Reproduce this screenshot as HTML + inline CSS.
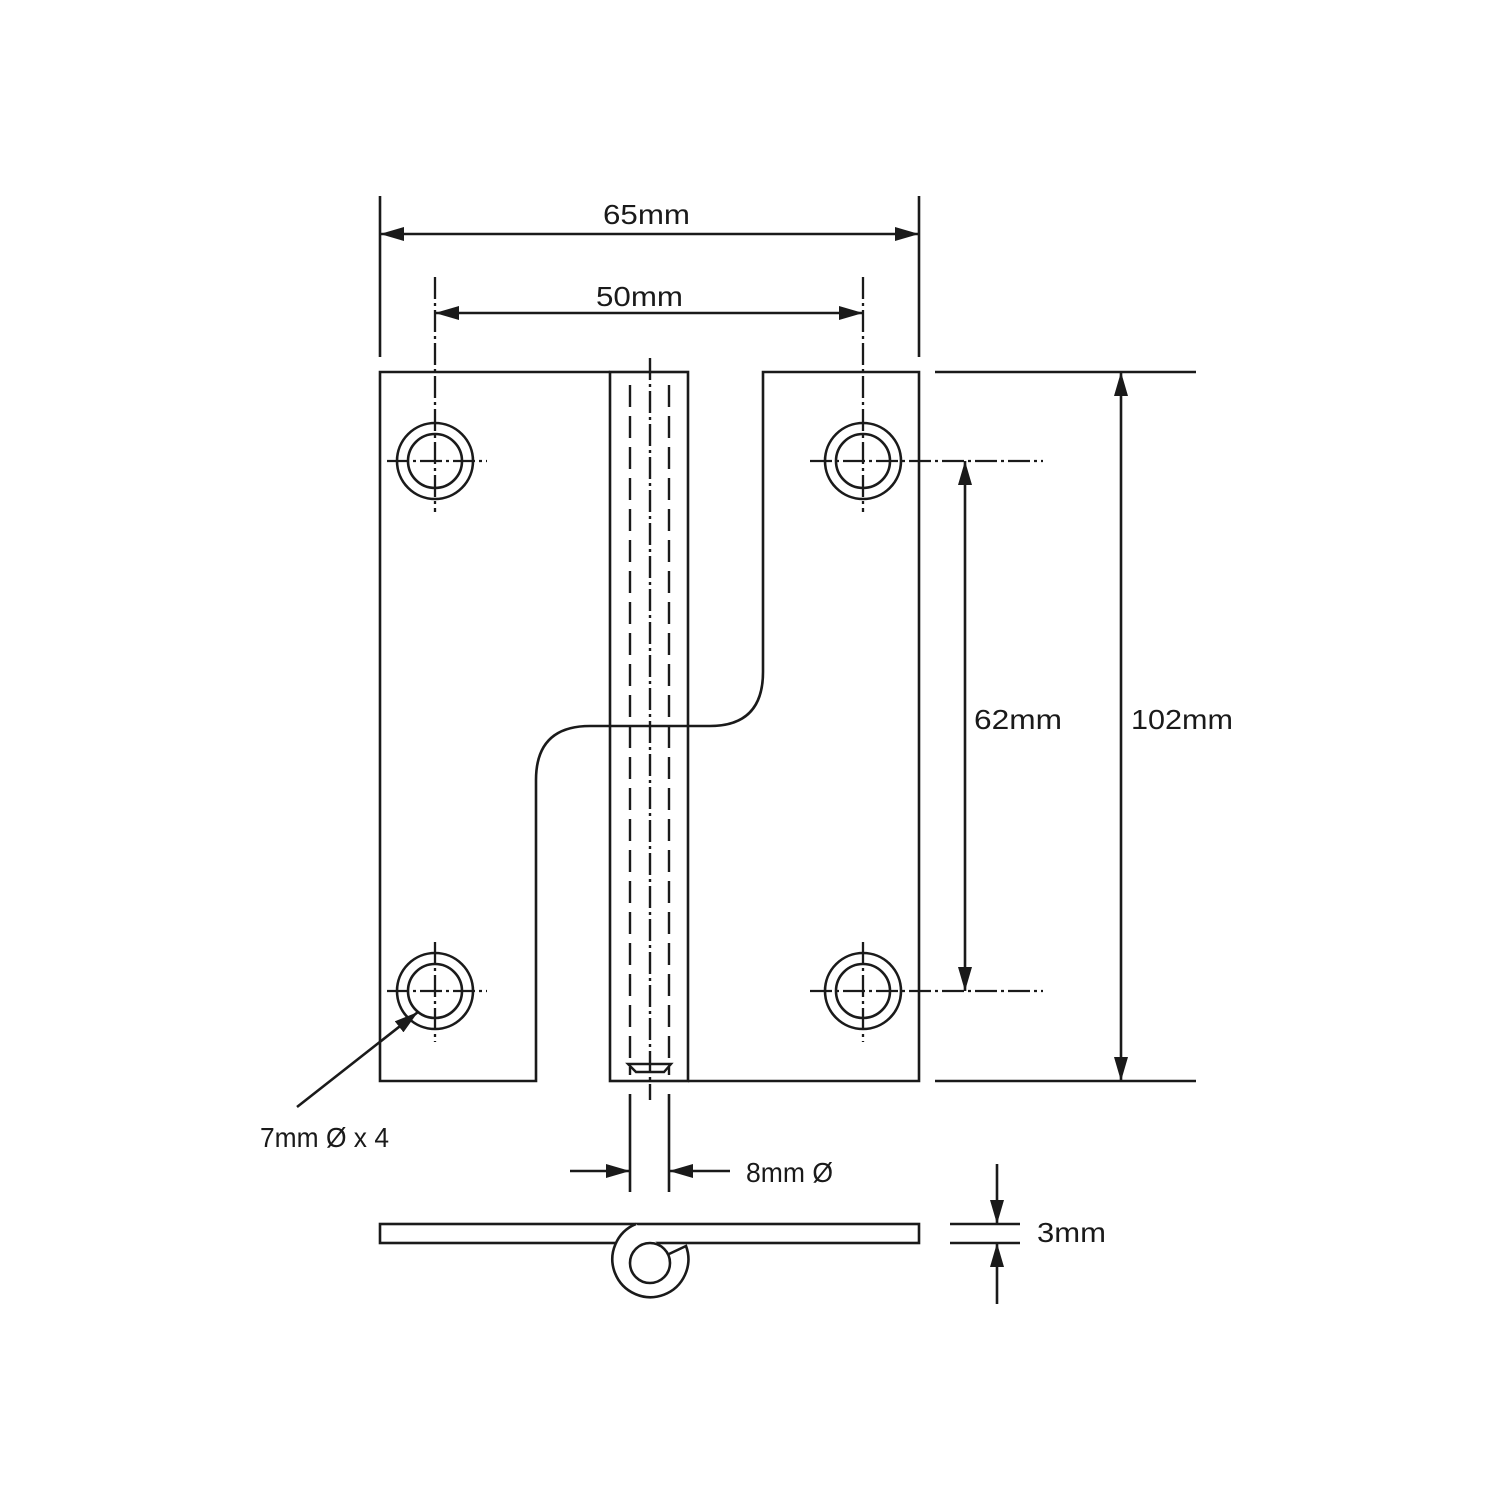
<!DOCTYPE html>
<html><head><meta charset="utf-8"><style>html,body{margin:0;padding:0;background:#fff}svg{display:block}</style></head>
<body>
<svg width="1500" height="1500" viewBox="0 0 1500 1500" xmlns="http://www.w3.org/2000/svg">
<defs>
<marker id="a" viewBox="0 0 24 14" refX="24" refY="7" markerWidth="24" markerHeight="14" markerUnits="userSpaceOnUse" orient="auto-start-reverse"><path d="M0,0 L24,7 L0,14 z" fill="#1a1a1a"/></marker>
</defs>
<g fill="none" stroke="#1a1a1a" stroke-width="2.6">
<path d="M610,372 H380 V1081 H536 V780 Q536,726 590,726 H610"/>
<path d="M688,726 H710 Q763,726 763,672 V372 H919 V1081 H688"/>
<rect x="610" y="372" width="78" height="709"/>
<line x1="610" y1="726" x2="688" y2="726"/>
<g stroke-width="2.4">
<line x1="630" y1="385" x2="630" y2="1075" stroke-dasharray="22,9"/>
<line x1="669" y1="385" x2="669" y2="1075" stroke-dasharray="22,9"/>
<line x1="650" y1="358" x2="650" y2="1100" stroke-dasharray="22,4,3,4"/>
<path d="M628,1064 H671 L664,1072 H636 Z"/>
</g>
<g>
<circle cx="435" cy="461" r="38"/><circle cx="435" cy="461" r="27"/>
<circle cx="863" cy="461" r="38"/><circle cx="863" cy="461" r="27"/>
<circle cx="435" cy="991" r="38"/><circle cx="435" cy="991" r="27"/>
<circle cx="863" cy="991" r="38"/><circle cx="863" cy="991" r="27"/>
</g>
<g stroke-width="2.3" stroke-dasharray="22,4,3,4">
<line x1="435" y1="277" x2="435" y2="512"/>
<line x1="863" y1="277" x2="863" y2="512"/>
<line x1="435" y1="942" x2="435" y2="1042"/>
<line x1="863" y1="942" x2="863" y2="1042"/>
<line x1="387" y1="461" x2="487" y2="461"/>
<line x1="387" y1="991" x2="487" y2="991"/>
<line x1="810" y1="461" x2="1043" y2="461"/>
<line x1="810" y1="991" x2="1043" y2="991"/>
</g>
<line x1="380" y1="196" x2="380" y2="357"/>
<line x1="919" y1="196" x2="919" y2="357"/>
<line x1="380" y1="234" x2="919" y2="234" marker-start="url(#a)" marker-end="url(#a)"/>
<line x1="435" y1="313" x2="863" y2="313" marker-start="url(#a)" marker-end="url(#a)"/>
<line x1="935" y1="372" x2="1196" y2="372"/>
<line x1="935" y1="1081" x2="1196" y2="1081"/>
<line x1="1121" y1="372" x2="1121" y2="1081" marker-start="url(#a)" marker-end="url(#a)"/>
<line x1="965" y1="461" x2="965" y2="991" marker-start="url(#a)" marker-end="url(#a)"/>
<line x1="297" y1="1107" x2="418" y2="1012" marker-end="url(#a)"/>
<line x1="630" y1="1094" x2="630" y2="1192"/>
<line x1="669" y1="1094" x2="669" y2="1192"/>
<line x1="570" y1="1171" x2="630" y2="1171" marker-end="url(#a)"/>
<line x1="730" y1="1171" x2="669" y2="1171" marker-end="url(#a)"/>
<rect x="380" y="1224" width="539" height="19"/>
<path d="M636,1224 A38,38 0 1 0 686,1246 L669,1254" fill="#fff"/>
<circle cx="650" cy="1263" r="20" fill="#fff"/>
<line x1="950" y1="1224" x2="1020" y2="1224"/>
<line x1="950" y1="1243" x2="1020" y2="1243"/>
<line x1="997" y1="1164" x2="997" y2="1224" marker-end="url(#a)"/>
<line x1="997" y1="1304" x2="997" y2="1243" marker-end="url(#a)"/>
</g>
<g font-family="Liberation Sans, sans-serif" font-size="28" fill="#1a1a1a">
<text x="603" y="224" textLength="87" lengthAdjust="spacingAndGlyphs">65mm</text>
<text x="596" y="306" textLength="87" lengthAdjust="spacingAndGlyphs">50mm</text>
<text x="974" y="729" textLength="88" lengthAdjust="spacingAndGlyphs">62mm</text>
<text x="1131" y="729" textLength="102" lengthAdjust="spacingAndGlyphs">102mm</text>
<text x="260" y="1147" textLength="129" lengthAdjust="spacingAndGlyphs">7mm Ø x 4</text>
<text x="746" y="1182" textLength="87" lengthAdjust="spacingAndGlyphs">8mm Ø</text>
<text x="1037" y="1242" textLength="69" lengthAdjust="spacingAndGlyphs">3mm</text>
</g>
</svg>
</body></html>
